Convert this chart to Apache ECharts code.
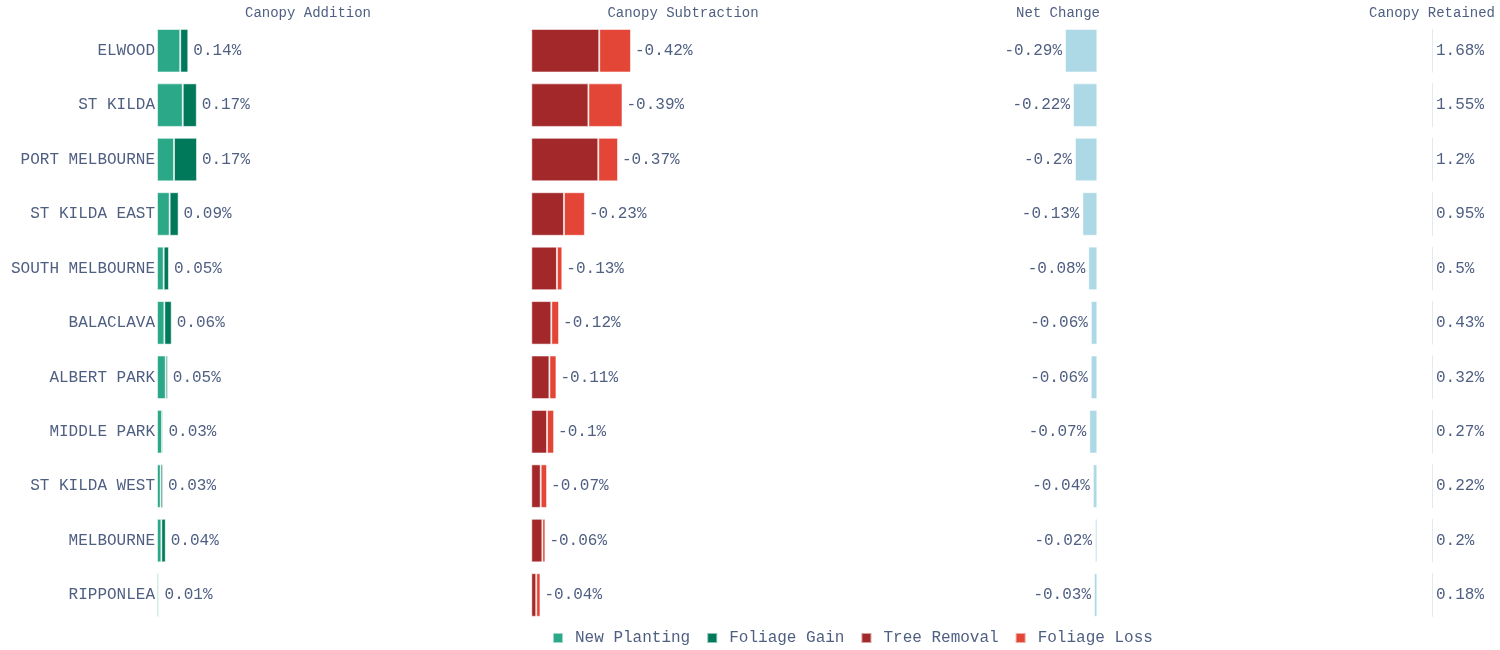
<!DOCTYPE html>
<html>
<head>
<meta charset="utf-8">
<script src="https://cdn.jsdelivr.net/npm/echarts@6/dist/echarts.min.js"></script>
<style>
  html, body { margin: 0; padding: 0; background: #ffffff; }
  #chart { width: 1500px; height: 650px; }
</style>
</head>
<body>
<div id="chart"></div>
<script>
// Suburbs, top to bottom
const suburbs = ['ELWOOD', 'ST KILDA', 'PORT MELBOURNE', 'ST KILDA EAST', 'SOUTH MELBOURNE',
  'BALACLAVA', 'ALBERT PARK', 'MIDDLE PARK', 'ST KILDA WEST', 'MELBOURNE', 'RIPPONLEA'];

// Canopy addition components (% of area)
const newPlanting = [0.101, 0.112, 0.074, 0.055, 0.029, 0.032, 0.038, 0.022, 0.016, 0.019, 0.008];
const foliageGain = [0.035, 0.061, 0.100, 0.039, 0.023, 0.032, 0.009, 0.006, 0.010, 0.019, 0.002];

// Canopy subtraction components (% of area, negative)
const treeRemoval = [-0.289, -0.243, -0.285, -0.139, -0.109, -0.085, -0.077, -0.067, -0.040, -0.047, -0.021];
const foliageLoss = [-0.135, -0.145, -0.084, -0.089, -0.023, -0.033, -0.030, -0.030, -0.027, -0.013, -0.018];

// Net change and retained canopy (%)
const netChange = [-0.291, -0.219, -0.201, -0.134, -0.081, -0.058, -0.059, -0.072, -0.040, -0.021, -0.030];
const canopyRetained = [1.68, 1.55, 1.2, 0.95, 0.5, 0.43, 0.32, 0.27, 0.22, 0.2, 0.18];

const panelTitles = ['Canopy Addition', 'Canopy Subtraction', 'Net Change', 'Canopy Retained'];

const FONT = "'Courier New', 'Liberation Mono', monospace";
const TEXT = '#4f5f82';
const fmt = v => parseFloat(v.toFixed(2)) + '%';

const chart = echarts.init(document.getElementById('chart'));

const gridTop = 23.5, gridHeight = 598.7;
// panel centres sit 375 px apart; the last panel is cut at the right edge
const panelCentre = [308, 683, 1058, 1432];
const panelLeft = [157, 531.3, 906, 1281];
const panelWidth = [302, 302, 302, 219];

const grids = panelLeft.map((l, i) => ({
  left: l, width: panelWidth[i], top: gridTop, height: gridHeight,
  containLabel: false, outerBoundsMode: 'none'
}));

const xRanges = [
  { min: 0, max: 1.313 },
  { min: -1.285, max: 0, inverse: true },
  { min: -1.7234, max: 0.997 },
  { min: -1510, max: 680 }
];

const xAxes = xRanges.map((r, i) => Object.assign({
  type: 'value', gridIndex: i,
  axisLine: { show: false }, axisTick: { show: false },
  axisLabel: { show: false }, splitLine: { show: false }
}, r));

const yAxes = [0, 1, 2, 3].map(i => ({
  type: 'category', gridIndex: i, data: suburbs, inverse: true,
  axisLine: { show: false }, axisTick: { show: false }, splitLine: { show: false },
  axisLabel: i === 0
    ? { show: true, margin: 2, color: TEXT, fontFamily: FONT, fontSize: 16 }
    : { show: false }
}));

const border = { borderColor: 'rgba(255,255,255,0.55)', borderWidth: 1 };
const labelBase = { show: true, color: TEXT, fontFamily: FONT, fontSize: 16 };

const series = [
  {
    name: 'New Planting', type: 'bar', stack: 'add', xAxisIndex: 0, yAxisIndex: 0,
    data: newPlanting, barCategoryGap: '20%',
    itemStyle: Object.assign({ color: '#2ba887' }, border)
  },
  {
    name: 'Foliage Gain', type: 'bar', stack: 'add', xAxisIndex: 0, yAxisIndex: 0,
    data: foliageGain,
    itemStyle: Object.assign({ color: '#00785a' }, border),
    label: Object.assign({ position: 'right', distance: 5,
      formatter: p => fmt(newPlanting[p.dataIndex] + foliageGain[p.dataIndex]) }, labelBase)
  },
  {
    name: 'Tree Removal', type: 'bar', stack: 'sub', xAxisIndex: 1, yAxisIndex: 1,
    data: treeRemoval, barCategoryGap: '20%',
    itemStyle: Object.assign({ color: '#a2282a' }, border)
  },
  {
    name: 'Foliage Loss', type: 'bar', stack: 'sub', xAxisIndex: 1, yAxisIndex: 1,
    data: foliageLoss,
    itemStyle: Object.assign({ color: '#e34536' }, border),
    label: Object.assign({ position: 'right', distance: 4,
      formatter: p => fmt(treeRemoval[p.dataIndex] + foliageLoss[p.dataIndex]) }, labelBase)
  },
  {
    name: 'Net Change', type: 'bar', xAxisIndex: 2, yAxisIndex: 2,
    data: netChange, barCategoryGap: '20%',
    itemStyle: Object.assign({ color: '#add8e6' }, border),
    label: Object.assign({ position: 'left', distance: 3, formatter: p => fmt(p.value) }, labelBase)
  },
  {
    name: 'Canopy Retained', type: 'bar', xAxisIndex: 3, yAxisIndex: 3,
    data: canopyRetained, barCategoryGap: '20%', barMinHeight: 1,
    itemStyle: { color: '#e2e9f1' },
    label: Object.assign({ position: 'right', distance: 3, formatter: p => fmt(p.value) }, labelBase)
  }
];

const titles = panelTitles.map((t, i) => ({
  text: t,
  left: panelCentre[i],
  top: 6,
  padding: 0,
  textAlign: 'center',
  textStyle: { color: TEXT, fontFamily: FONT, fontSize: 14, fontWeight: 'normal' }
}));

chart.setOption({
  animation: false,
  backgroundColor: '#ffffff',
  title: titles,
  legend: {
    data: ['New Planting', 'Foliage Gain', 'Tree Removal', 'Foliage Loss'],
    left: 547, top: 625,
    itemWidth: 10, itemHeight: 10, itemGap: 16,
    icon: 'rect',
    textStyle: { color: TEXT, fontFamily: FONT, fontSize: 16, padding: [0, 0, 0, 7] }
  },
  grid: grids,
  xAxis: xAxes,
  yAxis: yAxes,
  series: series
});
</script>
</body>
</html>
